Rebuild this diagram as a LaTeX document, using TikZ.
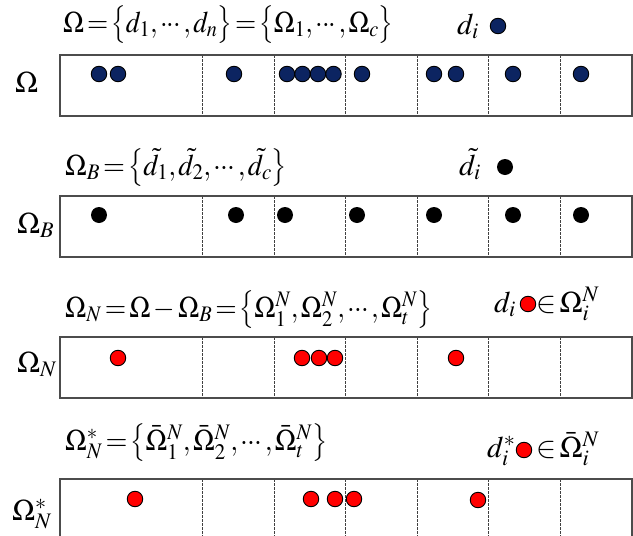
\documentclass[tikz,border=0pt]{standalone}
\usepackage{mathptmx}
\usepackage{graphicx}
\definecolor{navy}{RGB}{12,36,97}
\newcommand\mylb{\mathopen{\vcenter{\hbox{\scalebox{0.8}[0.7]{$\Bigl\{$}}}}}
\newcommand\myrb{\mathclose{\vcenter{\hbox{\scalebox{0.8}[0.7]{$\Bigr\}$}}}}}
\newcommand\mycd{\mathinner{\cdotp\mkern-2mu\cdotp\mkern-2mu\cdotp}}
\newcommand\mysp{\thinmuskip=1.5mu\relax\medmuskip=2mu\relax\thickmuskip=2mu\relax}
\newcommand\fm[1]{\mysp$#1$}
\newcommand\fms[2]{\scalebox{#1}[1]{\mysp$#2$}}
\tikzset{
  frame/.style={draw=black!70, line width=1.1pt},
  divider/.style={draw=black!75, line width=0.6pt, dash pattern=on 2.5pt off 1.5pt},
  bdot/.style={circle, draw=black, line width=0.9pt, fill=navy, minimum size=15.5pt, inner sep=0pt},
  kdot/.style={circle, fill=black, minimum size=16pt, inner sep=0pt},
  rdot/.style={circle, draw=black, line width=0.9pt, fill=red, minimum size=15.5pt, inner sep=0pt},
  formula/.style={anchor=base west, inner sep=0pt, font=\fontsize{30}{33}\selectfont},
}
\begin{document}
\begin{tikzpicture}[x=1pt,y=-1pt]
\useasboundingbox (0,0) rectangle (633,536);
\clip (0,0) rectangle (633,536);
\fill[white] (0,0) rectangle (633,536);

% ---------- row 1 ----------
\node[formula] (f1) at (63,32) {\fms{0.91}{\Omega = \mylb d_1, \mycd, d_n \myrb = \mylb \Omega_1, \mycd, \Omega_c \myrb}};
\node[formula] (l1) at (457,34) {\fm{d_i}};
\node[bdot] (k1) at (498,26) {};
\node[formula] (s1) at (15,92) {\fm{\Omega}};
\foreach \x in {202,274,345,417,488,560} \draw[divider] (\x,55) -- (\x,116);
\draw[frame] (60,55) rectangle (632,116);
\foreach \x [count=\i] in {99,118,234,287,302.5,318,333.5,362,434,456,513,581}
  \node[bdot] (a\i) at (\x,74) {};

% ---------- row 2 ----------
\node[formula] (f2) at (65,175) {\fms{0.94}{\Omega_B = \mylb \tilde d_1, \tilde d_2, \mycd, \tilde d_c \myrb}};
\node[formula] (l2) at (459,175) {\fm{\tilde d_i}};
\node[kdot] (k2) at (505,167) {};
\node[formula] (s2) at (17,233) {\fm{\Omega_B}};
\foreach \x in {202,274,345,417,488,560} \draw[divider] (\x,196) -- (\x,257);
\draw[frame] (60,196) rectangle (632,257);
\foreach \x [count=\i] in {99,236,285,357,434,513,581}
  \node[kdot] (b\i) at (\x,215) {};

% ---------- row 3 ----------
\node[formula] (f3) at (65,317) {\fms{0.92}{\Omega_N = \Omega - \Omega_B = \mylb \Omega_1^N, \Omega_2^N, \mycd, \Omega_t^N \myrb}};
\node[formula] (l3) at (494,312) {\fm{d_i}};
\node[rdot] (k3) at (528,304) {};
\node[formula] (m3) at (536,312) {\fm{\in \Omega_i^N}};
\node[formula] (s3) at (17,372) {\fm{\Omega_N}};
\foreach \x in {202,274,345,417,488,560} \draw[divider] (\x,337) -- (\x,398);
\draw[frame] (60,337) rectangle (632,398);
\foreach \x [count=\i] in {118,302,319,335,456}
  \node[rdot] (c\i) at (\x,358) {};

% ---------- row 4 ----------
\node[formula] (f4) at (65,450) {\fms{0.94}{\Omega_N^* = \mylb \bar\Omega_1^N, \bar\Omega_2^N, \mycd, \bar\Omega_t^N \myrb}};
\node[formula] (l4) at (487,457) {\fm{d_i^*}};
\node[rdot] (k4) at (524,450) {};
\node[formula] (m4) at (536,457) {\fm{\in \bar\Omega_i^N}};
\node[formula] (s4) at (12,520) {\fm{\Omega_N^*}};
\foreach \x in {202,274,345,417,488,560} \draw[divider] (\x,479) -- (\x,545);
\draw[frame] (60,545) -- (60,479) -- (632,479) -- (632,545);
\foreach \x/\y [count=\i] in {135/499,311/499,335/499,354/499,478/500}
  \node[rdot] (e\i) at (\x,\y) {};
\end{tikzpicture}
\end{document}
